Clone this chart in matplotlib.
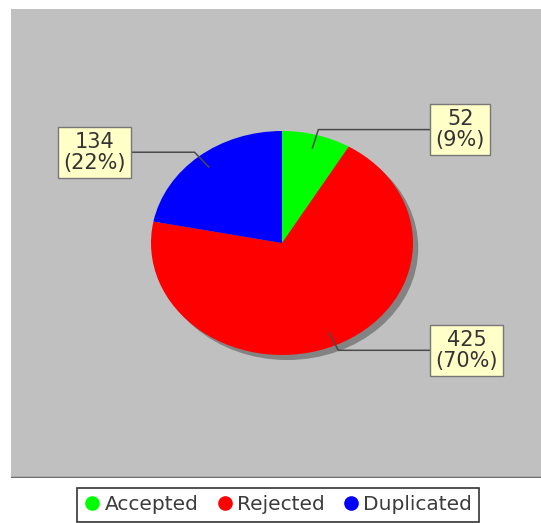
import matplotlib.pyplot as plt
import numpy as np
from matplotlib.patches import Ellipse
from matplotlib.lines import Line2D

# dados do gráfico
categorias = ['Accepted', 'Rejected', 'Duplicated']
valores = [52, 425, 134]
cores = ['#00ff00', '#ff0000', '#0000ff']

W, H = 541, 523
fig = plt.figure(figsize=(W / 100, H / 100), dpi=100)
fig.patch.set_facecolor('white')

def caixa(x0, y0, x1, y1):
    # converte pixels (origem no topo) em fração da figura
    return [x0 / W, 1 - y1 / H, (x1 - x0) / W, (y1 - y0) / H]

# fundo cinza da área do gráfico
fundo = fig.add_axes(caixa(11, 9, 541, 478))
fundo.set_facecolor('#c0c0c0')
fundo.set_xticks([])
fundo.set_yticks([])
for s in fundo.spines.values():
    s.set_visible(False)
fundo.axhline(0, color='#6e6e6e', lw=2.5)

# eixo da pizza (elipse: raio x 131 px, raio y 112 px)
ax = fig.add_axes(caixa(151, 131, 413, 355))

# sombra
ax.add_patch(Ellipse((0.04, -0.045), 2, 2, facecolor='#838383',
                     edgecolor='none', zorder=0, clip_on=False))

wedges, _ = ax.pie(valores, colors=cores, startangle=90, counterclock=False,
                   radius=1, wedgeprops=dict(linewidth=0), frame=True)
ax.set_xlim(-1, 1)
ax.set_ylim(-1, 1)
ax.set_aspect('auto')
ax.axis('off')

total = sum(valores)
# posição horizontal das caixas de rótulo (em unidades do raio)
pos_caixa = {'Accepted': 1.36, 'Rejected': 1.41, 'Duplicated': -1.43}
for w, cat, v in zip(wedges, categorias, valores):
    ang = np.deg2rad((w.theta1 + w.theta2) / 2)
    c, s = np.cos(ang), np.sin(ang)
    xe, ye = 1.05 * c, 1.05 * s
    xb = pos_caixa[cat]
    ax.plot([0.88 * c, xe, xb], [0.88 * s, ye, ye], color='#4a4a4a', lw=1.1,
            clip_on=False, zorder=3)
    pct = round(v / total * 100)
    ax.text(xb, ye, f'{v}\n({pct}%)', ha='center', va='center', fontsize=15,
            color='#333333', linespacing=1.05, zorder=4, clip_on=False,
            bbox=dict(boxstyle='square,pad=0.25', fc='#ffffc8', ec='#777777', lw=1))

# legenda
handles = [Line2D([], [], marker='o', ls='none', markersize=9.5,
                  markerfacecolor=c, markeredgecolor=c) for c in cores]
leg = fig.legend(handles, categorias, loc='center', bbox_to_anchor=(278 / W, 1 - 505 / H),
                 ncol=3, fontsize=14.5, frameon=True, fancybox=False,
                 handletextpad=0.2, columnspacing=0.9, handlelength=0.8,
                 borderpad=0.35, borderaxespad=0, labelcolor='#3c3c3c')
leg.get_frame().set_edgecolor('black')
leg.get_frame().set_linewidth(1.2)

fig.savefig('out.png', dpi=100)
